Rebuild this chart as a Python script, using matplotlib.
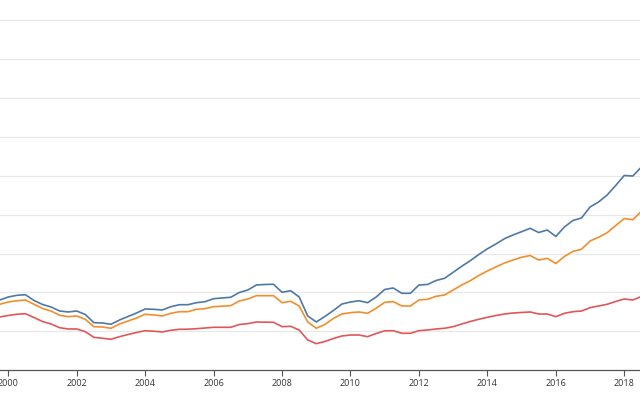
import numpy as np
import matplotlib
matplotlib.use("Agg")
import matplotlib.pyplot as plt

plt.rcParams['font.family'] = ['Open Sans', 'DejaVu Sans']

# quarterly series, starting 1999 Q3
start_year = 1999.5
blue = [178.0, 180.7, 188.4, 192.8, 194.3, 179.4, 169.2, 162.7, 152.4, 149.9,
        152.4, 143.4, 122.4, 121.6, 118.3, 129.3, 138.3, 147.3, 157.6, 156.8,
        155.0, 163.5, 168.6, 168.6, 173.8, 176.4, 184.1, 185.9, 187.7, 200.0,
        206.4, 219.3, 220.6, 221.1, 200.5, 204.6, 188.4, 139.6, 124.2, 138.3,
        153.7, 170.4, 175.6, 178.7, 173.8, 188.4, 207.7, 211.6, 197.9, 197.9,
        219.3, 220.6, 230.8, 236.5, 251.9, 267.4, 281.7, 297.7, 312.3, 324.7,
        338.3, 347.8, 356.3, 365.0, 354.2, 360.7, 344.0, 368.4, 385.1, 391.5,
        419.8, 432.7, 450.6, 475.1, 500.8, 499.5, 522.6]
orange = [167.9, 169.7, 175.6, 178.7, 180.7, 169.7, 158.9, 152.4, 141.4, 137.8,
          139.6, 131.1, 112.1, 111.3, 108.0, 119.0, 126.7, 134.4, 144.0, 142.2,
          139.6, 146.5, 150.6, 150.6, 156.8, 158.4, 163.5, 164.8, 166.1, 178.1,
          183.3, 191.8, 191.8, 191.8, 173.8, 177.4, 165.3, 124.2, 108.0, 117.7,
          133.2, 144.7, 148.1, 149.9, 146.5, 159.4, 174.8, 176.4, 165.3, 165.3,
          180.7, 182.5, 190.2, 193.6, 206.4, 219.3, 230.3, 243.7, 255.3, 265.6,
          275.8, 283.5, 290.5, 295.1, 283.5, 287.9, 274.5, 292.5, 305.9, 311.1,
          332.4, 341.9, 353.7, 372.2, 390.2, 387.1, 408.2]
red = [134.4, 137.0, 140.9, 144.0, 145.5, 135.7, 125.4, 119.0, 109.5, 106.2,
       106.2, 99.2, 84.8, 82.3, 79.7, 86.4, 92.0, 97.2, 101.8, 100.5,
       98.5, 102.8, 105.4, 105.7, 106.9, 108.7, 110.5, 110.5, 110.5, 117.7,
       119.8, 124.2, 123.7, 123.4, 112.1, 113.1, 103.6, 77.9, 68.4, 74.0,
       81.7, 88.2, 90.7, 90.7, 86.4, 94.6, 101.5, 101.8, 95.1, 95.1,
       101.8, 103.6, 106.2, 108.0, 112.1, 119.0, 125.4, 131.1, 136.2, 140.9,
       144.7, 147.3, 148.6, 149.9, 144.7, 144.7, 137.8, 146.5, 150.6, 152.4,
       160.9, 165.3, 169.7, 176.9, 183.3, 180.7, 189.7]
tick_years = [2000, 2002, 2004, 2006, 2008, 2010, 2012, 2014, 2016, 2018]
grid_values = [100, 200, 300, 400, 500, 600, 700, 800, 900]

t = start_year + 0.25 * np.arange(len(blue))

fig = plt.figure(figsize=(6.4, 4.0), dpi=100)
ax = fig.add_axes([0, 0.0743, 1, 0.9257])

for v in grid_values:
    ax.axhline(v, color='#e8e8e8', linewidth=0.9, zorder=0)

ax.plot(t, blue, color='#4e79a7', linewidth=1.2)
ax.plot(t, orange, color='#f28e2b', linewidth=1.2)
ax.plot(t, red, color='#e15759', linewidth=1.2)

ax.set_xlim(1999.7575, 2018.46)
ax.set_ylim(0, 952)
ax.set_yticks([])
ax.set_xticks(tick_years)
ax.set_xticklabels([str(y) for y in tick_years])
ax.tick_params(axis='x', length=4, width=0.8, color='#555555',
               labelsize=6.5, labelcolor='#333333', pad=2.5)
for s in ['top', 'right', 'left']:
    ax.spines[s].set_visible(False)
ax.spines['bottom'].set_color('#555555')
ax.spines['bottom'].set_linewidth(0.9)

fig.savefig('out.png', dpi=100)
